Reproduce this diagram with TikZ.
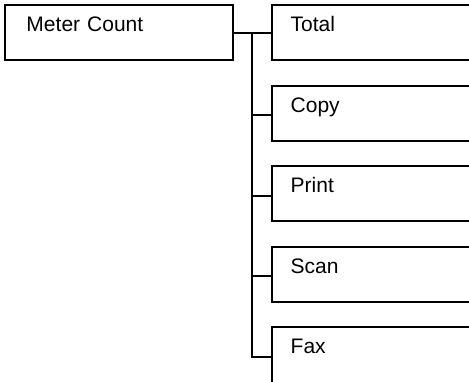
\documentclass[tikz,border=0pt]{standalone}
\usepackage{fontspec}
\setmainfont{Liberation Sans}
\usetikzlibrary{positioning}
\tikzset{
 menubox/.style={draw,line width=2pt,outer sep=0pt,inner ysep=0pt,align=left,
             text height=26.5pt,text depth=28.5pt,font=\fontsize{21}{25}\selectfont},
 mainbox/.style={menubox,inner xsep=21.5pt,text width=184.5pt},
 itembox/.style={menubox,inner xsep=19pt,text width=202pt},
 link/.style={line width=2pt}
}
\begin{document}
\begin{tikzpicture}[x=1pt,y=1pt,node distance=25.5pt]
\useasboundingbox (0,0) rectangle (469,-381);
\clip (0,0) rectangle (469,-381);
\node[mainbox,anchor=north west] (meter) at (5,-5) {Meter Count};
\node[itembox,right=39.2pt of meter] (total) {Total};
\node[itembox,below=of total] (copy) {Copy};
\node[itembox,below=of copy] (print) {Print};
\node[itembox,below=of print] (scan) {Scan};
% last box runs off the bottom edge
\node[itembox,below=of scan,text depth=40pt] (fax) {Fax};
\coordinate[right=19.5pt of meter.east] (fork);
\draw[link] (meter)--(total);
\foreach \item in {copy,print,scan,fax}
  \draw[link] (fork) |- ([yshift=-29.5pt]\item.north west);
\end{tikzpicture}
\end{document}
